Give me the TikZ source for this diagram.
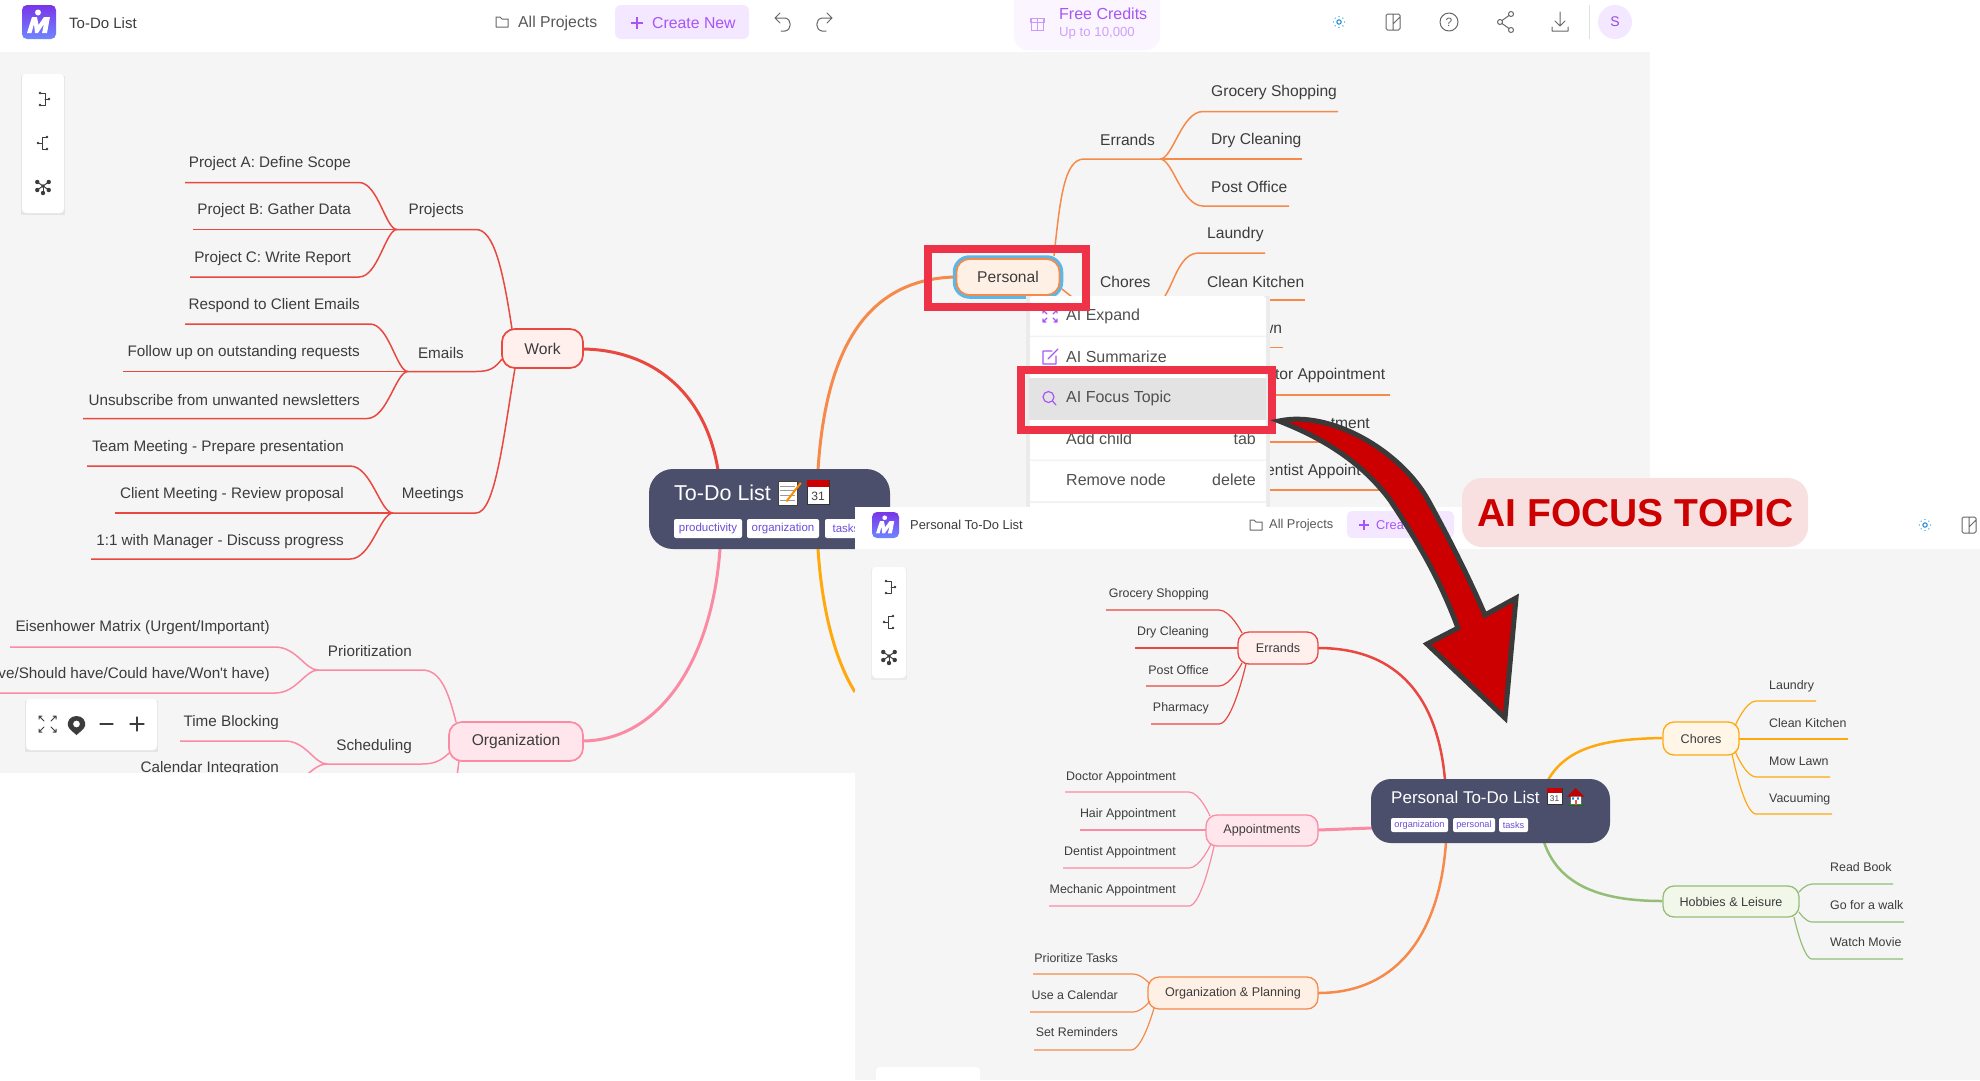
\documentclass[tikz,border=0pt]{standalone}
\usepackage{fontspec}
\setmainfont{Liberation Sans}[Ligatures=TeXOff]
\usetikzlibrary{calc}
\definecolor{ink}{HTML}{3C3C3C}
\definecolor{canvas}{HTML}{F5F5F5}
\definecolor{navy}{HTML}{4C4F6B}
\definecolor{cred}{HTML}{E8483F}
\definecolor{cpink}{HTML}{FB8BA5}
\definecolor{corange}{HTML}{F58A4B}
\definecolor{camber}{HTML}{FFA90F}
\definecolor{cgreen}{HTML}{94BD76}
\definecolor{fred}{HTML}{FFF0EE}
\definecolor{fpink}{HTML}{FFE6EC}
\definecolor{forange}{HTML}{FFF0E6}
\definecolor{famber}{HTML}{FFF6E8}
\definecolor{fgreen}{HTML}{F1F8E9}
\definecolor{tagtext}{HTML}{6B4FD8}
\definecolor{violet1}{HTML}{A855F7}
\definecolor{btn}{HTML}{F3E8FF}
\definecolor{hilite}{HTML}{EE3348}
\definecolor{arrowred}{HTML}{CC0000}
\definecolor{arrowedge}{HTML}{3A3A3A}
\definecolor{pillfill}{HTML}{F8E0E0}
\definecolor{icong}{HTML}{666666}
\definecolor{ringblue}{HTML}{5AB8E8}
\definecolor{logoa}{HTML}{6F86FF}
\definecolor{logob}{HTML}{7A35E8}
\newcommand{\fs}[1]{\fontsize{#1}{#1}\selectfont}
\tikzset{
  x=1pt,y=-1pt,
  leaf/.style={inner sep=0pt,text=ink,font=\fs{15.25},yshift=-1pt},
  conn/.style={line width=1.5pt},
  mapnode/.style={draw,rounded corners=13pt,inner sep=0pt,text=ink,line width=1.7pt},
  tk/.style={line width=3pt},
  centre/.style={fill=navy,rounded corners=24pt,inner sep=0pt},
  tag/.style={fill=white,rounded corners=2pt,inner sep=0pt,text=tagtext,anchor=center},
  hdr/.style={inner sep=0pt,text=ink,anchor=west},
  ico/.style={draw=icong,line width=1pt,line cap=round,line join=round},
  panel/.style={fill=white,rounded corners=4pt},
  hibox/.style={draw=hilite,line width=8pt},
  menutxt/.style={inner sep=0pt,text=ink!90,font=\fs{16}},
}
\def\arrivefrac{0.3}
\newcommand{\LL}[9]{%
  \node[leaf,anchor=east] (#1) at (#3,#4) {#2};
  \coordinate (#1-a) at (#5,#6);
  \coordinate (#1-b) at (#7,#6);
  \draw[conn,#9] (#1-a) -- (#1-b) .. controls ($(#1-b)!0.5!(#8 |- #1-b)$) and ($(#8)!\arrivefrac!(#1-b |- #8)$) .. (#8);
}
\newcommand{\LR}[9]{%
  \node[leaf,anchor=west] (#1) at (#3,#4) {#2};
  \coordinate (#1-a) at (#5,#6);
  \coordinate (#1-b) at (#7,#6);
  \draw[conn,#9] (#1-a) -- (#1-b) .. controls ($(#1-b)!0.5!(#8 |- #1-b)$) and ($(#8)!\arrivefrac!(#1-b |- #8)$) .. (#8);
}
\newcommand{\applogo}[4]{% x y w h
  \begin{scope}[shift={(#1,#2)}]
    \shade[rounded corners=5pt,bottom color=logoa,top color=logob] (0,0) rectangle (#3,#4);
    \begin{scope}[x=#3pt/34,y=-#4pt/34]
      \fill[white] (5,28) -- (10,12) -- (15,12) -- (16.5,20) -- (22,12) -- (28,12) -- (25,28) -- (20,28) -- (22,19) -- (16,28) -- (13,28) -- (12,19) -- (9.5,28) -- cycle;
      \fill[white] (16,7.5) circle (3);
    \end{scope}
  \end{scope}
}
\newcommand{\folder}[2]{\draw[ico,shift={(#1,#2)}] (-6,-5) -- (-2,-5) -- (0,-3) -- (6,-3) -- (6,5) -- (-6,5) -- cycle;}
\newcommand{\sunico}[2]{%
  \begin{scope}[shift={(#1,#2)}]
    \draw[line width=1pt,cyan!70!blue] (0,0) circle (2.2);
    \foreach \a in {0,45,...,315}{\fill[cyan!70!blue] (\a:5.5) circle (.7);}
  \end{scope}}
\newcommand{\themeico}[2]{\draw[ico,shift={(#1,#2)},rounded corners=1.5pt] (-7,-8) rectangle (7,8) (0,-8) -- (0,8) (0,2) -- (7,-5);}
\newcommand{\treeA}[2]{%
  \begin{scope}[shift={(#1,#2)}]
    \draw[ico,draw=ink] (-4,-6) -- (1,-6) -- (1,6) -- (-4,6) (1,0) -- (5,0);
    \fill[ink] (-4,-6) circle (1.4) (-4,6) circle (1.4) (5,0) circle (1.4);
  \end{scope}}
\newcommand{\treeB}[2]{%
  \begin{scope}[shift={(#1,#2)}]
    \draw[ico,draw=ink] (4,-6) -- (-1,-6) -- (-1,6) -- (4,6) (-1,0) -- (-5,0);
    \fill[ink] (4,-6) circle (1.4) (4,6) circle (1.4) (-5,0) circle (1.4);
  \end{scope}}
\newcommand{\treeC}[2]{%
  \begin{scope}[shift={(#1,#2)}]
    \foreach \a in {90,35,145,215,325}{\draw[ico,draw=ink,line width=1pt] (0,0) -- (\a:7); \fill[ink] (\a:7) circle (2.2);}
    \fill[ink] (0,0) circle (1.8);
  \end{scope}}
\newcommand{\memoemoji}[3]{% x y h (top-left, size)
  \begin{scope}[shift={(#1,#2)}]
    \draw[fill=white,draw=black!75,line width=.7pt] (0,0) rectangle (#3*.8,#3);
    \foreach \t in {.2,.4,.6,.8}{\draw[black!40,line width=.5pt] (#3*.1,#3*\t) -- (#3*.7,#3*\t);}
    \draw[orange!90!yellow,line width=2pt] (#3*.35,#3*.85) -- (#3*.95,#3*.08);
  \end{scope}}
\newcommand{\calemoji}[3]{%
  \begin{scope}[shift={(#1,#2)}]
    \draw[fill=white,draw=black!80,line width=.8pt] (0,0) rectangle (#3,#3*1.12);
    \fill[red!80!black] (.4,.4) rectangle (#3-.4,#3*.3);
    \pgfmathsetmacro\calfs{#3*.55}
    \node[inner sep=0pt,text=black!75,font=\fs{\calfs}] (cal-#1) at (#3/2,#3*.72) {31};
  \end{scope}}
\newcommand{\houseemoji}[3]{%
  \begin{scope}[shift={(#1,#2)}]
    \fill[white,draw=black!60,line width=.4pt] (#3*.18,#3*.45) rectangle (#3*.82,#3*.98);
    \fill[red!75!black] (#3*.5,0) -- (#3,#3*.5) -- (0,#3*.5) -- cycle;
    \fill[cyan!70!blue] (#3*.3,#3*.55) rectangle (#3*.42,#3*.68) (#3*.58,#3*.55) rectangle (#3*.7,#3*.68);
    \fill[red!70] (#3*.44,#3*.72) rectangle (#3*.56,#3*.98);
    \fill[green!50!black] (0,#3*.98) rectangle (#3,#3*1.05);
  \end{scope}}
\begin{document}
\begin{tikzpicture}
\useasboundingbox (0,0) rectangle (1980,1080);
\fill[white] (0,0) rectangle (1980,1080);
% ---------- first screenshot ----------
\fill[canvas] (0,52) rectangle (1650,773);
\applogo{22}{5}{34}{34}
\node[hdr,font=\fs{15}] (title1) at (69,23) {To-Do List};
\folder{502}{22}
\node[hdr,font=\fs{15.8},text=ink!85] (allp1) at (518,23) {All Projects};
\fill[btn,rounded corners=6pt] (615,5) rectangle (749,39);
\draw[violet1,line width=1.2pt] (631,23) -- (643,23) (637,17) -- (637,29);
\node[hdr,font=\fs{15.8},text=violet1] (create1) at (652,23) {Create New};
\draw[ico] (780,13) -- (775,18) -- (780,23) (775,18) -- (785,18) .. controls (792,19) and (792,30) .. (785,31) -- (781,31);
\draw[ico] (827,13) -- (832,18) -- (827,23) (832,18) -- (822,18) .. controls (815,19) and (815,30) .. (822,31) -- (826,31);
\fill[violet1!6,rounded corners=14pt] (1014,-14) rectangle (1160,50);
\draw[violet1!60,line width=1pt] (1031,18) rectangle (1043,30) (1037,18) -- (1037,30) (1030,18) rectangle (1044,22);
\node[hdr,font=\fs{16},text=violet1] (free) at (1059,14) {Free Credits};
\node[hdr,font=\fs{13.2},text=violet1!55] (upto) at (1059,33) {Up to 10,000};
\sunico{1339}{22}
\themeico{1393}{22}
\draw[ico] (1449,22) circle (9);
\node[inner sep=0pt,font=\fs{12},text=icong] (helpq) at (1449,22) {?};
\draw[ico] (1500,22) circle (2.5) (1511,14) circle (2.5) (1511,30) circle (2.5) (1502,20.5) -- (1509,15.5) (1502,23.5) -- (1509,28.5);
\draw[ico] (1560,12) -- (1560,26) (1555,21) -- (1560,26) -- (1565,21) (1552,27) -- (1552,31) -- (1568,31) -- (1568,27);
\draw[black!12,line width=.8pt] (1589,5) -- (1589,39);
\fill[btn] (1615,22) circle (17);
\node[inner sep=0pt,font=\fs{14},text=violet1!90!black] (avatar) at (1615,22) {S};
% toolbar
\fill[black!10] (21,76) rectangle (65,215);
\fill[panel] (22,74) rectangle (64,213);
\treeA{44}{99}\treeB{43}{143}\treeC{43}{186}
% central node first map
\draw[tk,corange] (954,277) .. controls (860,280) and (825,360) .. (818,470);
\draw[tk,camber] (818,549) .. controls (822,610) and (835,660) .. (855,692);
\draw[tk,cred] (583,349) .. controls (650,350) and (705,390) .. (718,470);
\draw[tk,cpink] (720,549) .. controls (712,660) and (660,740) .. (583,741);
\node[centre,minimum width=241pt,minimum height=80pt] (central1) at (769.5,509) {};
\node[hdr,text=white,font=\fs{21.5}] (ct1) at (674,493) {To-Do List};
\memoemoji{778}{481}{24}
\calemoji{807}{480}{22}
\node[tag,minimum width=68pt,minimum height=19pt,font=\fs{11.5}] (tag1a) at (708,528.5) {productivity};
\node[tag,minimum width=72pt,minimum height=19pt,font=\fs{11.5}] (tag1b) at (783,528.5) {organization};
\node[tag,minimum width=42pt,minimum height=19pt,font=\fs{11.5}] (tag1c) at (846,528.5) {tasks};
% work
\node[mapnode,draw=cred,fill=fred,minimum width=81pt,minimum height=39pt,font=\fs{15.6}] (work) at (542.5,348.5) {Work};
\coordinate (jproj) at (397,229.5);
\coordinate (jemail) at (408,371.5);
\coordinate (jmeet) at (393,513);
\LL{la}{Project A: Define Scope}{351}{163}{185}{182.5}{359}{jproj}{cred}
\LL{lb}{Project B: Gather Data}{351}{210}{193}{229.5}{397}{jproj}{cred}
\LL{lc}{Project C: Write Report}{351}{258}{190}{277}{359}{jproj}{cred}
\LL{ld}{Respond to Client Emails}{360}{305}{185}{324}{370}{jemail}{cred}
\LL{le}{Follow up on outstanding requests}{360}{352}{123}{371.5}{408}{jemail}{cred}
\LL{lf}{Unsubscribe from unwanted newsletters}{360}{399}{83}{418.5}{367}{jemail}{cred}
\LL{lg}{Team Meeting - Prepare presentation}{344}{447}{87}{466}{350}{jmeet}{cred}
\LL{lh}{Client Meeting - Review proposal}{344}{494}{115}{513}{393}{jmeet}{cred}
\LL{li}{1:1 with Manager - Discuss progress}{344}{541}{91}{559}{350}{jmeet}{cred}
\node[leaf,anchor=east] (bproj) at (464,210) {Projects};
\node[leaf,anchor=east] (bemail) at (464,352) {Emails};
\node[leaf,anchor=east] (bmeet) at (464,494) {Meetings};
\coordinate (wa) at (512,329);\coordinate (wb) at (502,359);\coordinate (wc) at (515,368);
\draw[conn,cred] (jproj) -- (476,229.5) .. controls (494,229.5) and (503,270) .. (wa);
\draw[conn,cred] (jemail) -- (476,371.5) .. controls (490,371.5) and (495,368) .. (wb);
\draw[conn,cred] (jmeet) -- (476,513) .. controls (495,513) and (503,440) .. (wc);
% organization
\node[mapnode,draw=cpink,fill=fpink,minimum width=134pt,minimum height=39pt,font=\fs{15.6}] (org) at (516,741.5) {Organization};
\coordinate (jprio) at (318,670);
\coordinate (jsched) at (327,764);
\LL{pa}{Eisenhower Matrix (Urgent/Important)}{270}{627}{10}{647}{275}{jprio}{cpink}
\LL{pb}{ve/Should have/Could have/Won't have)}{270}{674}{0}{693}{275}{jprio}{cpink}
\LL{pc}{Time Blocking}{279}{722}{180}{741}{285}{jsched}{cpink}
\node[leaf,anchor=east] (pd) at (279,768) {Calendar Integration};
\node[leaf,anchor=east] (bprio) at (412,650) {Prioritization};
\node[leaf,anchor=east] (bsched) at (412,746) {Scheduling};
\coordinate (oa) at (456,722);\coordinate (ob) at (449,753);\coordinate (oc) at (459,761);\coordinate (od) at (457,776);
\coordinate (pdend) at (305,776);
\draw[conn,cpink] (jprio) -- (422,670) .. controls (440,670) and (448,690) .. (oa);
\draw[conn,cpink] (jsched) -- (422,764) .. controls (435,764) and (442,760) .. (ob);
\draw[conn,cpink] (oc) -- (od);
\draw[conn,cpink] (jsched) .. controls (318,764) and (312,771) .. (pdend);
% zoom panel
\fill[black!10] (25,701) rectangle (158,752);
\fill[panel] (26,699) rectangle (157,750);
\draw[ico,draw=ink] (39,719) -- (39,716) -- (42,716) (39,716) -- (44,721) (53,716) -- (56,716) -- (56,719) (56,716) -- (51,721) (39,729) -- (39,732) -- (42,732) (39,732) -- (44,727) (56,729) -- (56,732) -- (53,732) (56,732) -- (51,727);
\fill[ink,even odd rule] (76.5,716) .. controls (70,716) and (67,721) .. (68,726) .. controls (69,729) and (73,732) .. (76.5,735) .. controls (80,732) and (84,729) .. (85,726) .. controls (86,721) and (83,716) .. (76.5,716) -- cycle (76.5,724) circle (3.5);
\draw[ico,draw=ink,line width=1.2pt] (100,724) -- (113,724) (130,724) -- (144,724) (137,717) -- (137,731);
% personal branch
\begin{scope}[leaf/.style={inner sep=0pt,text=ink,font=\fs{15.6},yshift=-.5pt}]
\node[draw=ringblue,line width=3.5pt,rounded corners=15pt,minimum width=107pt,minimum height=40pt,inner sep=0pt] (personalring) at (1008,277) {};
\node[mapnode,draw=corange,fill=forange,minimum width=103pt,minimum height=36pt,font=\fs{15.6}] (personal) at (1008,277) {Personal};
\coordinate (jerr) at (1160,159);
\coordinate (jcho) at (1165,296);
\coordinate (pa1) at (1054,256);
\draw[conn,corange] (pa1) .. controls (1060,200) and (1064,159) .. (1084,159) -- (jerr);
\draw[conn,corange] (1062,289) -- (1072,297);
\node[leaf,anchor=west] (berr) at (1100,139) {Errands};
\node[leaf,anchor=west] (bcho) at (1100,281) {Chores};
\LR{ra}{Grocery Shopping}{1211}{92}{1338}{111.5}{1203}{jerr}{corange}
\LR{rb}{Dry Cleaning}{1211}{140}{1302}{159}{1160}{jerr}{corange}
\LR{rc}{Post Office}{1211}{186}{1289}{206}{1203}{jerr}{corange}
\coordinate (jl) at (1199,253);
\node[leaf,anchor=west] (rd) at (1207,234) {Laundry};
\draw[conn,corange] (1265,253) -- (jl) .. controls (1180,253) and (1175,280) .. (jcho);
\node[leaf,anchor=west] (re) at (1207,281) {Clean Kitchen};
\draw[conn,corange] (1260,300) -- (1305,300);
\node[leaf,anchor=west] (rf) at (1262,329) {wn};
\draw[conn,corange] (1260,347.5) -- (1283,347.5);
\node[leaf,anchor=west] (rg) at (1267,375) {ctor Appointment};
\draw[conn,corange] (1260,395) -- (1390,395);
\node[leaf,anchor=east] (rh) at (1370,423) {tment};
\draw[conn,corange] (1260,442) -- (1335,442);
\node[leaf,anchor=west] (ri) at (1266,471) {entist Appoint};
\draw[conn,corange] (1260,490) -- (1380,490);
\end{scope}
% white area under the first canvas
\fill[white] (0,773) rectangle (855,1080);
% context menu
\fill[black!8] (1026,296) rectangle (1270,512);
\fill[white,rounded corners=3pt] (1030,296) rectangle (1266,520);
\fill[black!5] (1030,335.5) rectangle (1266,337) (1030,459.5) rectangle (1266,461) (1030,501) rectangle (1266,503);
\fill[black!11] (1029,378) rectangle (1266,420);
\node[menutxt,anchor=west] (m1) at (1066,316) {AI Expand};
\node[menutxt,anchor=west] (m2) at (1066,356.5) {AI Summarize};
\node[menutxt,anchor=west] (m3) at (1066,398) {AI Focus Topic};
\node[menutxt,anchor=west] (m4) at (1066,439) {Add child};
\node[menutxt,anchor=west] (m5) at (1066,480) {Remove node};
\node[menutxt,anchor=east] (m6) at (1256,439) {tab};
\node[menutxt,anchor=east] (m7) at (1256,480) {delete};
\draw[ico,draw=violet1,line width=1.2pt] (1043,313) -- (1043,310) -- (1046,310) (1057,313) -- (1057,310) -- (1054,310) (1043,319) -- (1043,322) -- (1046,322) (1057,319) -- (1057,322) -- (1054,322) (1043,310) -- (1047,314) (1057,310) -- (1053,314) (1043,322) -- (1047,318) (1057,322) -- (1053,318);
\draw[ico,draw=violet1,line width=1.2pt] (1052,351) -- (1043,351) -- (1043,364) -- (1056,364) -- (1056,356) (1048,359) -- (1058,349);
\draw[ico,draw=violet1,line width=1.2pt] (1048.5,397) circle (5.5) (1052.5,401) -- (1056,405);
% ---------- second screenshot ----------
\fill[canvas] (855,549) rectangle (1980,1080);
\fill[white] (855,507) rectangle (1980,549);
\applogo{872}{512}{27}{26}
\node[hdr,font=\fs{12.9}] (title2) at (910,525) {Personal To-Do List};
\folder{1256}{525}
\node[hdr,font=\fs{12.8},text=ink!85] (allp2) at (1269,525) {All Projects};
\fill[btn,rounded corners=5pt] (1347,511) rectangle (1454,538);
\draw[violet1,line width=1.1pt] (1359,525) -- (1369,525) (1364,520) -- (1364,530);
\node[hdr,font=\fs{12.8},text=violet1] (create2) at (1376,525) {Crea};
\sunico{1925}{525}
\themeico{1969}{525}
\fill[black!8] (871,569) rectangle (907,680);
\fill[panel] (872,567) rectangle (906,678);
\treeA{890}{587}\treeB{889}{622}\treeC{889}{656}
\fill[panel] (876,1067) rectangle (980,1090);
\begin{scope}[leaf/.style={inner sep=0pt,text=ink,font=\fs{12.4}},conn/.style={line width=1.2pt}]
\def\arrivefrac{0}
\draw[line width=2.5pt,cred] (1318,648) .. controls (1400,648) and (1438,700) .. (1445,780);
\draw[line width=2.5pt,corange] (1318,993) .. controls (1400,993) and (1440,930) .. (1446,842);
\draw[line width=3pt,cpink] (1318,830) -- (1372,828);
\draw[line width=2.5pt,camber] (1662,738) .. controls (1610,739) and (1568,745) .. (1548,780);
\draw[line width=2.5pt,cgreen] (1662,901) .. controls (1610,901) and (1560,890) .. (1544,842);
\node[centre,rounded corners=20pt,minimum width=239pt,minimum height=64pt] (central2) at (1490.5,811) {};
\node[hdr,text=white,font=\fs{17}] (ct2) at (1391,797) {Personal To-Do List};
\calemoji{1547}{788}{15}
\houseemoji{1567}{788}{17}
\node[tag,minimum width=57pt,minimum height=14pt,font=\fs{9.2}] (tag2a) at (1419.5,825) {organization};
\node[tag,minimum width=42pt,minimum height=14pt,font=\fs{9.2}] (tag2b) at (1474,825) {personal};
\node[tag,minimum width=29pt,minimum height=14pt,font=\fs{9.2}] (tag2c) at (1513.5,825) {tasks};
% errands
\node[mapnode,rounded corners=11pt,line width=1.3pt,draw=cred,fill=fred,minimum width=80pt,minimum height=32pt,font=\fs{12.6}] (errands) at (1278,648) {Errands};
\coordinate (ea) at (1242,633);\coordinate (eb) at (1238,648);\coordinate (ec) at (1242,663);\coordinate (ed) at (1246,664);
\LL{a1}{Grocery Shopping}{1209}{594}{1106}{610}{1219}{ea}{cred}
\LL{a2}{Dry Cleaning}{1209}{632}{1135}{648}{1238}{eb}{cred}
\LL{a3}{Post Office}{1209}{670}{1146}{686}{1219}{ec}{cred}
\LL{a4}{Pharmacy}{1209}{708}{1151}{724}{1219}{ed}{cred}
% appointments
\node[mapnode,rounded corners=11pt,line width=1.3pt,draw=cpink,fill=fpink,minimum width=112pt,minimum height=31pt,font=\fs{12.6}] (appts) at (1262,830.5) {Appointments};
\coordinate (fa) at (1210,816);\coordinate (fb) at (1206,830);\coordinate (fc) at (1211,844);\coordinate (fd) at (1214,846);
\LL{b1}{Doctor Appointment}{1176}{777}{1065}{792}{1189}{fa}{cpink}
\LL{b2}{Hair Appointment}{1176}{814}{1080}{830}{1206}{fb}{cpink}
\LL{b3}{Dentist Appointment}{1176}{852}{1063}{868}{1189}{fc}{cpink}
\LL{b4}{Mechanic Appointment}{1176}{890}{1049}{906}{1189}{fd}{cpink}
% organization & planning
\node[mapnode,rounded corners=11pt,line width=1.3pt,draw=corange,fill=forange,minimum width=170pt,minimum height=32pt,font=\fs{12.6}] (orgplan) at (1233,993) {Organization \& Planning};
\coordinate (ga) at (1150,984);\coordinate (gb) at (1150,1001);\coordinate (gc) at (1154,1008);
\LL{c1}{Prioritize Tasks}{1118}{958}{1033}{974}{1133}{ga}{corange}
\LL{c2}{Use a Calendar}{1118}{995}{1030}{1012}{1133}{gb}{corange}
\LL{c3}{Set Reminders}{1118}{1032}{1034}{1050}{1131}{gc}{corange}
% chores
\node[mapnode,rounded corners=11pt,line width=1.3pt,draw=camber,fill=famber,minimum width=76pt,minimum height=33pt,font=\fs{12.6}] (chores) at (1701,738.5) {Chores};
\coordinate (ha) at (1735,726);\coordinate (hb) at (1739,739);\coordinate (hc) at (1735,751);\coordinate (hd) at (1732,754);
\LR{d1}{Laundry}{1769}{686}{1816}{701}{1756}{ha}{camber}
\LR{d2}{Clean Kitchen}{1769}{723}{1848}{739}{1739}{hb}{camber}
\LR{d3}{Mow Lawn}{1769}{761}{1830}{777}{1756}{hc}{camber}
\LR{d4}{Vacuuming}{1769}{799}{1832}{814}{1756}{hd}{camber}
% hobbies
\node[mapnode,rounded corners=11pt,line width=1.3pt,draw=cgreen,fill=fgreen,minimum width=136pt,minimum height=31pt,font=\fs{12.6}] (hobbies) at (1731,901.5) {Hobbies \& Leisure};
\coordinate (ia) at (1799,892);\coordinate (ib) at (1799,912);\coordinate (ic) at (1794,917);
\LR{e1}{Read Book}{1830}{867}{1893}{884}{1812}{ia}{cgreen}
\LR{e2}{Go for a walk}{1830}{905}{1904}{922}{1812}{ib}{cgreen}
\LR{e3}{Watch Movie}{1830}{942}{1903}{959}{1812}{ic}{cgreen}
\end{scope}
% ---------- overlays ----------
\draw[hibox] (928,249) rectangle (1085.5,307);
\draw[hibox] (1021,370) rectangle (1272,429.5);
\draw[fill=arrowred,draw=arrowedge,line width=5pt,line join=miter,miter limit=6]
  (1279,421) .. controls (1330,410) and (1400,450) .. (1428,500)
  .. controls (1450,540) and (1470,580) .. (1485,615)
  -- (1516,598) -- (1505,718) -- (1427,644) -- (1458,628)
  .. controls (1440,580) and (1420,545) .. (1390,500)
  .. controls (1360,460) and (1320,437) .. (1279,421) -- cycle;
\fill[pillfill,rounded corners=20pt] (1462,478) rectangle (1808,547);
\node[inner sep=0pt,text=arrowred,font=\bfseries\fs{39}] (focus) at (1635.5,513) {AI FOCUS TOPIC};
\end{tikzpicture}
\end{document}
